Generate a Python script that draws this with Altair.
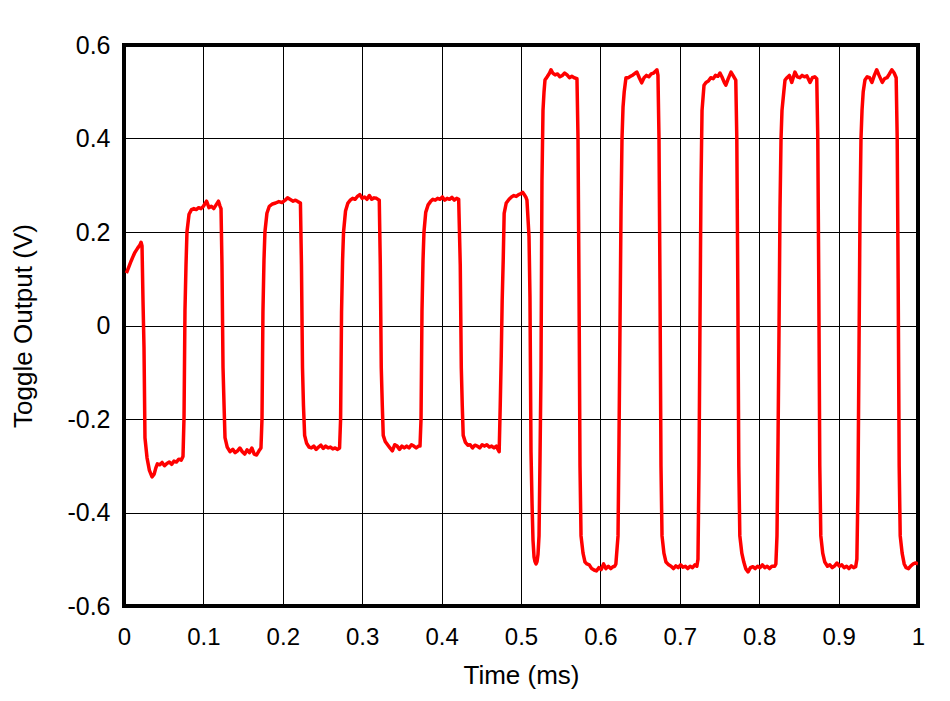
import altair as alt
import pandas as pd

# ---- Trace (time in ms, output in V) ----
# start + first low level
t_a = [0.003, 0.006, 0.009, 0.012, 0.014, 0.017, 0.020, 0.0215, 0.0227, 0.0239, 0.0252, 0.0264, 0.029, 0.032,
       0.0353, 0.038, 0.040, 0.042, 0.045, 0.048, 0.051, 0.054, 0.057, 0.060, 0.063, 0.066, 0.069, 0.072, 0.0743]
v_a = [0.112, 0.125, 0.138, 0.150, 0.157, 0.165, 0.172, 0.178, 0.170, 0.055, -0.048, -0.240, -0.283, -0.310,
       -0.324, -0.318, -0.305, -0.296, -0.298, -0.293, -0.300, -0.295, -0.292, -0.297, -0.290, -0.292, -0.286, -0.288, -0.280]

# small pulse 1 + low
t_b = [0.0756, 0.0768, 0.0781, 0.0793, 0.0819, 0.085, 0.088, 0.091, 0.094, 0.097, 0.100, 0.104, 0.107, 0.110,
       0.113, 0.116, 0.119, 0.121, 0.1222,
       0.1234, 0.1247, 0.126, 0.1272, 0.130, 0.1335, 0.137, 0.140, 0.143, 0.146, 0.149, 0.152, 0.155, 0.158,
       0.161, 0.164, 0.167, 0.170, 0.1725]
v_b = [-0.196, 0.033, 0.130, 0.200, 0.238, 0.248, 0.250, 0.248, 0.252, 0.250, 0.255, 0.266, 0.252, 0.255,
       0.250, 0.258, 0.266, 0.255, 0.250,
       0.13, -0.09, -0.17, -0.24, -0.260, -0.270, -0.265, -0.272, -0.268, -0.262, -0.270, -0.275, -0.266, -0.272,
       -0.262, -0.275, -0.277, -0.268, -0.262]

# small pulse 2 + low
t_c = [0.1738, 0.175, 0.1763, 0.1775, 0.180, 0.183, 0.187, 0.191, 0.195, 0.199, 0.203, 0.206, 0.209, 0.213,
       0.216, 0.219, 0.2222,
       0.2235, 0.2248, 0.226, 0.2275, 0.230, 0.233, 0.236, 0.239, 0.242, 0.245, 0.248, 0.251, 0.254, 0.257,
       0.260, 0.263, 0.266, 0.269, 0.2715]
v_c = [-0.20, 0.03, 0.14, 0.20, 0.240, 0.255, 0.260, 0.262, 0.265, 0.263, 0.268, 0.273, 0.270, 0.266,
       0.268, 0.265, 0.262,
       0.13, -0.09, -0.17, -0.235, -0.252, -0.260, -0.262, -0.258, -0.265, -0.260, -0.256, -0.263, -0.258, -0.262,
       -0.260, -0.264, -0.262, -0.265, -0.262]

# small pulse 3 + low
t_d = [0.2728, 0.274, 0.2753, 0.2765, 0.279, 0.282, 0.285, 0.288, 0.291, 0.294, 0.297, 0.300, 0.303, 0.306,
       0.309, 0.312, 0.315, 0.318, 0.3215,
       0.3228, 0.324, 0.3253, 0.3265, 0.329, 0.332, 0.335, 0.338, 0.341, 0.344, 0.347, 0.350, 0.353, 0.356,
       0.359, 0.362, 0.365, 0.368, 0.371, 0.3728]
v_d = [-0.20, 0.03, 0.14, 0.20, 0.245, 0.262, 0.268, 0.272, 0.270, 0.276, 0.280, 0.272, 0.275, 0.270,
       0.278, 0.270, 0.273, 0.272, 0.268,
       0.13, -0.09, -0.17, -0.235, -0.248, -0.255, -0.262, -0.268, -0.255, -0.258, -0.265, -0.258, -0.262, -0.258,
       -0.262, -0.255, -0.258, -0.262, -0.258, -0.258]

# small pulse 4 + low
t_e = [0.3741, 0.3753, 0.3766, 0.3778, 0.380, 0.383, 0.386, 0.389, 0.392, 0.395, 0.398, 0.401, 0.404, 0.407,
       0.410, 0.413, 0.416, 0.419, 0.4215,
       0.4235, 0.4248, 0.426, 0.4272, 0.430, 0.433, 0.436, 0.439, 0.442, 0.445, 0.448, 0.451, 0.454, 0.457,
       0.460, 0.463, 0.466, 0.469, 0.471, 0.4725]
v_e = [-0.20, 0.03, 0.14, 0.20, 0.242, 0.258, 0.265, 0.270, 0.268, 0.272, 0.270, 0.275, 0.268, 0.272,
       0.270, 0.274, 0.268, 0.272, 0.270,
       0.13, -0.09, -0.17, -0.235, -0.250, -0.256, -0.255, -0.262, -0.256, -0.258, -0.262, -0.255, -0.258, -0.255,
       -0.260, -0.258, -0.262, -0.258, -0.265, -0.270]

# small pulse 5 + narrow dip
t_f = [0.4738, 0.4751, 0.4763, 0.4776, 0.4788, 0.4814, 0.485, 0.488, 0.491, 0.494, 0.497, 0.500, 0.502, 0.504,
       0.506, 0.5075,
       0.5101, 0.5113, 0.5126, 0.5139, 0.5151, 0.5164, 0.5176, 0.519, 0.5202, 0.5214]
v_f = [-0.175, -0.067, 0.054, 0.14, 0.24, 0.262, 0.270, 0.275, 0.278, 0.276, 0.280, 0.282, 0.285, 0.280,
       0.275, 0.268,
       0.19, 0.061, -0.27, -0.38, -0.459, -0.495, -0.505, -0.510, -0.505, -0.490]

# large pulse A + low
t_g = [0.5227, 0.5239, 0.5252, 0.5264, 0.5277, 0.529, 0.5302, 0.533, 0.536, 0.5378, 0.540, 0.543, 0.546, 0.549,
       0.552, 0.555, 0.558, 0.561, 0.564, 0.567, 0.5705,
       0.5718, 0.573, 0.5743, 0.5756, 0.5781, 0.5806, 0.583, 0.586, 0.589, 0.592, 0.595, 0.598, 0.601, 0.604,
       0.607, 0.610, 0.613, 0.616, 0.618, 0.6195]
v_g = [-0.45, -0.29, -0.095, 0.31, 0.46, 0.50, 0.525, 0.532, 0.540, 0.547, 0.540, 0.536, 0.538, 0.532,
       0.535, 0.540, 0.536, 0.530, 0.533, 0.530, 0.528,
       0.40, 0.10, -0.30, -0.45, -0.487, -0.506, -0.510, -0.512, -0.520, -0.523, -0.525, -0.518, -0.522, -0.510,
       -0.520, -0.515, -0.520, -0.516, -0.515, -0.510]

# large pulse B + low
t_h = [0.6222, 0.6234, 0.6247, 0.626, 0.6272, 0.6285, 0.630, 0.6322, 0.635, 0.638, 0.641, 0.644, 0.646, 0.649,
       0.652, 0.655, 0.658, 0.661, 0.664, 0.667, 0.670, 0.6712, 0.6725,
       0.6738, 0.675, 0.6763, 0.6776, 0.680, 0.6826, 0.686, 0.689, 0.692, 0.695, 0.698, 0.701, 0.704, 0.707,
       0.710, 0.713, 0.716, 0.719, 0.7215]
v_h = [-0.45, -0.25, 0.0, 0.25, 0.40, 0.467, 0.50, 0.53, 0.530, 0.533, 0.536, 0.540, 0.542, 0.530,
       0.519, 0.530, 0.535, 0.532, 0.538, 0.540, 0.545, 0.547, 0.535,
       0.40, 0.10, -0.30, -0.45, -0.487, -0.506, -0.512, -0.515, -0.520, -0.514, -0.518, -0.512, -0.517, -0.515,
       -0.520, -0.515, -0.518, -0.512, -0.515]

# large pulse C + low
t_i = [0.7229, 0.7242, 0.7254, 0.7267, 0.728, 0.7305, 0.733, 0.736, 0.739, 0.742, 0.745, 0.748, 0.7506, 0.753,
       0.756, 0.758, 0.761, 0.7645, 0.767, 0.7705,
       0.7718, 0.773, 0.7743, 0.7756, 0.7781, 0.7806, 0.783, 0.786, 0.789, 0.792, 0.795, 0.798, 0.801, 0.804,
       0.807, 0.810, 0.813, 0.816, 0.8195, 0.821]
v_i = [-0.50, -0.30, 0.0, 0.30, 0.46, 0.514, 0.520, 0.523, 0.530, 0.528, 0.535, 0.533, 0.540, 0.532,
       0.520, 0.514, 0.528, 0.542, 0.535, 0.525,
       0.40, 0.10, -0.30, -0.45, -0.487, -0.506, -0.520, -0.527, -0.518, -0.516, -0.520, -0.515, -0.518, -0.512,
       -0.518, -0.515, -0.520, -0.515, -0.515, -0.510]

# large pulse D + low
t_j = [0.8224, 0.8237, 0.825, 0.8262, 0.8275, 0.8287, 0.831, 0.8325, 0.835, 0.838, 0.841, 0.845, 0.848, 0.851,
       0.854, 0.857, 0.860, 0.864, 0.867, 0.870, 0.8725,
       0.8738, 0.875, 0.8763, 0.8776, 0.880, 0.8826, 0.886, 0.889, 0.892, 0.895, 0.898, 0.901, 0.904, 0.907,
       0.910, 0.913, 0.916, 0.919, 0.9215, 0.923]
v_j = [-0.45, -0.25, 0.0, 0.25, 0.40, 0.46, 0.50, 0.525, 0.530, 0.535, 0.520, 0.542, 0.532, 0.530,
       0.535, 0.532, 0.534, 0.520, 0.530, 0.532, 0.528,
       0.40, 0.10, -0.30, -0.45, -0.487, -0.506, -0.515, -0.512, -0.518, -0.514, -0.508, -0.515, -0.512, -0.518,
       -0.515, -0.520, -0.514, -0.518, -0.516, -0.500]

# large pulse E + final low
t_k = [0.9244, 0.9257, 0.927, 0.9282, 0.9295, 0.931, 0.9332, 0.936, 0.939, 0.942, 0.945, 0.948, 0.951, 0.955,
       0.958, 0.961, 0.964, 0.967, 0.970, 0.9725,
       0.9738, 0.975, 0.9763, 0.9776, 0.980, 0.9826, 0.985, 0.988, 0.991, 0.994, 0.997, 1.0]
v_k = [-0.35, -0.05, 0.25, 0.40, 0.46, 0.50, 0.525, 0.532, 0.530, 0.520, 0.535, 0.547, 0.535, 0.520,
       0.528, 0.530, 0.538, 0.547, 0.540, 0.530,
       0.40, 0.10, -0.30, -0.45, -0.487, -0.510, -0.518, -0.520, -0.514, -0.510, -0.508, -0.510]

times = t_a + t_b + t_c + t_d + t_e + t_f + t_g + t_h + t_i + t_j + t_k
volts = v_a + v_b + v_c + v_d + v_e + v_f + v_g + v_h + v_i + v_j + v_k

x_ticks = [0, 0.1, 0.2, 0.3, 0.4, 0.5, 0.6, 0.7, 0.8, 0.9, 1.0]
y_ticks = [-0.6, -0.4, -0.2, 0, 0.2, 0.4, 0.6]

df = pd.DataFrame({"t": times, "v": volts, "i": list(range(len(times)))})

label_expr = "datum.value < -1e-9 ? '-' + format(-datum.value, '.1~f') : format(abs(datum.value), '.1~f')"

FONT = "Liberation Sans"

chart = (
    alt.Chart(df)
    .mark_line(color="#FF0000", strokeWidth=3.5, clip=True, strokeJoin="round")
    .encode(
        x=alt.X(
            "t:Q",
            scale=alt.Scale(domain=[0, 1], nice=False, zero=False),
            axis=alt.Axis(
                title="Time (ms)",
                values=x_ticks,
                labelExpr=label_expr,
                labelPadding=19,
                labelFontSize=24,
                titleY=69,
                titleBaseline="middle",
            ),
        ),
        y=alt.Y(
            "v:Q",
            scale=alt.Scale(domain=[-0.6, 0.6], nice=False, zero=False),
            axis=alt.Axis(
                title="Toggle Output (V)",
                values=y_ticks,
                labelExpr=label_expr,
                labelPadding=14,
                labelFontSize=25,
                titleX=-101,
                titleY=280.5,
                titleAngle=270,
                titleAlign="center",
                titleBaseline="middle",
            ),
        ),
        order="i:Q",
    )
    .properties(
        width=794,
        height=561,
        autosize=alt.AutoSizeParams(type="none"),
        padding={"left": 116, "top": 37, "right": 24, "bottom": 100},
        background="white",
    )
    .configure_view(stroke="black", strokeWidth=4)
    .configure_axis(
        grid=True,
        gridColor="black",
        gridWidth=1,
        gridOpacity=1,
        ticks=False,
        domain=False,
        labelFont=FONT,
        labelColor="black",
        titleFont=FONT,
        titleFontSize=26,
        titleFontWeight="normal",
        titleColor="black",
        labelOverlap=False,
        labelFlush=False,
    )
)

chart.save("out.html", embed_options={"renderer": "svg", "actions": False})
